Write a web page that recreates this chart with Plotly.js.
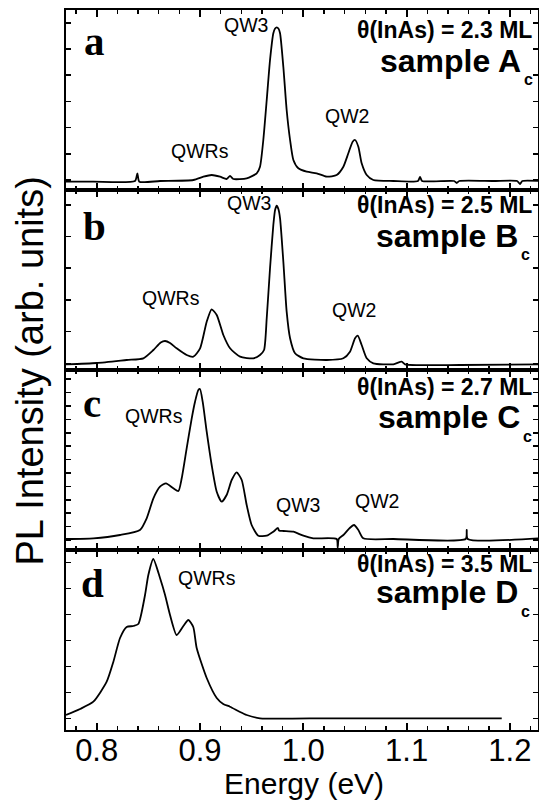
<!DOCTYPE html>
<html>
<head>
<meta charset="utf-8">
<script src="https://cdn.plot.ly/plotly-3.0.1.min.js"></script>
<style>html,body{margin:0;padding:0;background:#fff;}#chart{width:539px;height:807px;}</style>
</head>
<body>
<div id="chart"></div>
<script>
// ---- Data (energy in eV, PL intensity in arbitrary units) ----
const energyA = [0.7703,0.7968,0.8371,0.8394,0.8413,0.8613,0.8936,0.9033,0.9113,0.9194,0.9258,0.9291,0.9323,0.9452,0.9549,0.9581,0.9613,0.9646,0.9678,0.9710,0.9727,0.9743,0.9759,0.9775,0.9807,0.9839,0.9872,0.9904,0.9952,1.0033,1.0130,1.0227,1.0323,1.0388,1.0436,1.0478,1.0501,1.0533,1.0565,1.0614,1.0678,1.0872,1.1110,1.1130,1.1150,1.1460,1.1485,1.1510,1.1840,1.2070,1.2098,1.2120,1.2282];
const intensityA = [8.3,8.3,9,16.7,8.3,9,10,13.3,15,13.3,11,14,11,11.7,16.7,23.3,50,90,130,156.7,161.5,162.7,161.5,156.7,123,80,50,30,21.7,18.3,16.7,13.3,15,23.3,36.7,48.3,50,43.3,26.7,15,10,9,9,13,9,9,7,9,9,9,6,9,9];

const energyB = [0.7703,0.8000,0.8290,0.8452,0.8549,0.8620,0.8662,0.8710,0.8774,0.8871,0.8936,0.9001,0.9065,0.9113,0.9162,0.9226,0.9291,0.9388,0.9517,0.9581,0.9620,0.9646,0.9678,0.9710,0.9727,0.9743,0.9759,0.9775,0.9807,0.9839,0.9872,0.9920,1.0001,1.0227,1.0388,1.0452,1.0501,1.0527,1.0565,1.0614,1.0678,1.0872,1.0953,1.0985,1.1517,1.2282];
const intensityB = [5.7,7,10,11.7,20,27.5,29,27,21.7,15,13.3,21.7,48.3,60.7,55,35,21.7,13.3,11.7,15,20,51.7,101.7,145,160,164.3,161,151.7,108.3,58.3,31.7,16.7,11.7,10,11.7,18.3,31.7,34.3,25,11.7,6.7,5.7,8.3,5.7,5,5.7];

const energyC = [0.7703,0.7968,0.8226,0.8419,0.8484,0.8549,0.8613,0.8671,0.8742,0.8791,0.8823,0.8871,0.8920,0.8952,0.8984,0.9000,0.9026,0.9065,0.9113,0.9162,0.9210,0.9258,0.9307,0.9355,0.9404,0.9452,0.9500,0.9565,0.9646,0.9710,0.9755,0.9765,0.9807,0.9904,1.0001,1.0097,1.0323,1.0333,1.0343,1.0388,1.0446,1.0491,1.0533,1.0581,1.0872,1.1572,1.1582,1.1592,1.2282];
const intensityC = [11,11.7,15,20,31.7,51.7,63.3,66.7,61.7,59,71.7,101.7,131.7,148.3,160,161,148.3,118.3,85,58.3,48.3,55,70,77.7,70,45,25,14.3,14.3,18.3,22,19.5,19,18.3,14.3,11.7,11,2.3,11,15,21.7,25,20,11.7,11,11,20,11,11.7];

const energyD = [0.7703,0.7839,0.7968,0.8097,0.8161,0.8226,0.8290,0.8355,0.8403,0.8468,0.8500,0.8548,0.8613,0.8662,0.8710,0.8774,0.8839,0.8887,0.8935,0.8968,0.9065,0.9162,0.9225,0.9290,0.9388,0.9452,0.9581,1.0227,1.0872,1.1921];
const intensityD = [15,21,28.3,48.3,68,92,103,104,106,135,155,171,152,135,115,95,104,110,103,82,52,32,26,23.3,18,15,11.7,11.7,11.7,11.7];

const panelLetters = ['a','b','c','d'];
const coverages = ['θ(InAs) = 2.3 ML','θ(InAs) = 2.5 ML','θ(InAs) = 2.7 ML','θ(InAs) = 3.5 ML'];
const sampleNames = ['sample A','sample B','sample C','sample D'];
const xTickVals = [0.8,0.9,1.0,1.1,1.2];
const xTickText = ['0.8','0.9','1.0','1.1','1.2'];
const xTitle = 'Energy (eV)';
const yTitle = 'PL Intensity (arb. units)';

// ---- Layout helpers (pixel -> paper) ----
const L = 66, W = 472, T = 10, H = 720;
const X = px => (px - L) / W;
const Y = py => (T + H - py) / H;

const SANS = 'Liberation Sans, Arial, Helvetica, sans-serif';
const SERIF = 'Liberation Serif, Times New Roman, serif';

const line = {color: 'black', width: 1.8, shape: 'spline', smoothing: 0.6};
const traces = [
  {x: energyA, y: intensityA, xaxis: 'x4', yaxis: 'y4'},
  {x: energyB, y: intensityB, xaxis: 'x3', yaxis: 'y3'},
  {x: energyC, y: intensityC, xaxis: 'x2', yaxis: 'y2'},
  {x: energyD, y: intensityD, xaxis: 'x', yaxis: 'y'}
].map(t => Object.assign({type: 'scatter', mode: 'lines', line: line, hoverinfo: 'skip', showlegend: false}, t));

const xBase = {
  range: [0.7703, 1.2272], tickvals: xTickVals, ticktext: xTickText,
  ticks: 'inside', ticklen: 7, tickwidth: 2, tickcolor: 'black',
  mirror: 'allticks', showline: true, linewidth: 2, linecolor: 'black',
  showgrid: false, zeroline: false,
  tickfont: {family: SANS, size: 31, color: 'black'},
  ticklabelstandoff: -8,
  minor: {dtick: 0.02, tick0: 0.8, ticks: 'inside', ticklen: 4, tickwidth: 1.5, tickcolor: 'black', showgrid: false}
};
const yBase = {
  range: [0, 180], ticks: 'inside', ticklen: 5, tickwidth: 1.5, tickcolor: 'black',
  mirror: 'allticks', showline: true, linewidth: 2, linecolor: 'black',
  showgrid: false, zeroline: false, showticklabels: false
};

const layout = {
  width: 539, height: 807,
  margin: {l: L, r: 539 - L - W, t: T, b: 807 - T - H},
  paper_bgcolor: 'white', plot_bgcolor: 'white',
  font: {family: SANS, color: 'black'},
  xaxis: Object.assign({}, xBase, {anchor: 'y', showticklabels: true}),
  xaxis2: Object.assign({}, xBase, {anchor: 'y2', matches: 'x', showticklabels: false}),
  xaxis3: Object.assign({}, xBase, {anchor: 'y3', matches: 'x', showticklabels: false}),
  xaxis4: Object.assign({}, xBase, {anchor: 'y4', matches: 'x', showticklabels: false}),
  yaxis: Object.assign({}, yBase, {domain: [0, 0.25], tick0: 11.7, dtick: 26}),
  yaxis2: Object.assign({}, yBase, {domain: [0.25, 0.5], tick0: 10, dtick: 13.4}),
  yaxis3: Object.assign({}, yBase, {domain: [0.5, 0.75], tick0: 6.7, dtick: 31.7}),
  yaxis4: Object.assign({}, yBase, {domain: [0.75, 1], tick0: 10, dtick: 26.2}),
  annotations: []
};

const ann = (text, px, py, opts) => Object.assign({
  text: text, x: X(px), y: Y(py), xref: 'paper', yref: 'paper',
  showarrow: false, xanchor: 'center', yanchor: 'middle',
  font: {family: SANS, size: 19.5, color: 'black'}
}, opts || {});

// axis titles
layout.annotations.push(ann(yTitle, 29, 371.5,
  {textangle: -90, font: {family: SANS, size: 38, color: 'black'}}));
layout.annotations.push(ann(xTitle, 304, 794 - 10.5,
  {font: {family: SANS, size: 30, color: 'black'}}));

// panel letters
const letterPos = [[82, 55], [80.5, 240], [80.5, 417], [79, 597]];
panelLetters.forEach((t, i) => layout.annotations.push(ann(t, letterPos[i][0], letterPos[i][1] - 14.2,
  {xanchor: 'left', font: {family: SERIF, size: 41, color: 'black', weight: 'bold'}})));

// coverage lines
const covBase = [38, 213.3, 395, 571.7];
coverages.forEach((t, i) => layout.annotations.push(ann(t, 534, covBase[i] - 8,
  {xanchor: 'right', font: {family: SANS, size: 23, color: 'black', weight: 'bold'}})));

// sample names + subscript
const sampBase = [72, 246.7, 428.3, 603.3];
const sampRight = [523, 520, 521.5, 520];
const subBase = [85, 260, 441.7, 616.7];
sampleNames.forEach((t, i) => {
  layout.annotations.push(ann(t, sampRight[i], sampBase[i] - 11,
    {xanchor: 'right', font: {family: SANS, size: 32, color: 'black', weight: 'bold'}}));
  layout.annotations.push(ann('c', sampRight[i] - 1, subBase[i] - 5.6,
    {xanchor: 'left', font: {family: SANS, size: 16, color: 'black', weight: 'bold'}}));
});

// peak labels
const peakLabels = [
  ['QW3', 245.5, 32], ['QW2', 346.5, 123], ['QWRs', 200, 158],
  ['QW3', 248.5, 210], ['QWRs', 171, 305], ['QW2', 354, 316.7],
  ['QWRs', 154, 423], ['QW3', 297.5, 511.7], ['QW2', 376.5, 508],
  ['QWRs', 207, 585]
];
peakLabels.forEach(p => layout.annotations.push(ann(p[0], p[1], p[2] - 6.8)));

Plotly.newPlot('chart', traces, layout, {staticPlot: true, displayModeBar: false});
</script>
</body>
</html>
